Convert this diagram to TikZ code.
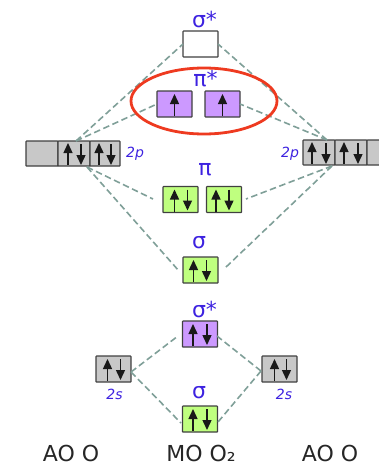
\documentclass[tikz,border=0pt]{standalone}
\usepackage{fontspec}
\setmainfont{DejaVu Sans}
\usetikzlibrary{arrows.meta}
\definecolor{lblue}{HTML}{3D22E0}
\definecolor{lpurple}{HTML}{CC99FF}
\definecolor{lgreen}{HTML}{BFFF7F}
\definecolor{lgrey}{HTML}{C8C8C8}
\definecolor{ldash}{HTML}{7F9F98}
\definecolor{lred}{HTML}{EE3A20}
\tikzset{
  orb/.style={draw=black!75,line width=1.2pt,minimum width=35pt,minimum height=26pt,inner sep=0pt,outer sep=0pt,rounded corners=0.6pt},
  conn/.style={draw=ldash,line width=1.6pt,dash pattern=on 6.5pt off 3.5pt},
  sym/.style={text=lblue,font=\fontsize{22}{24}\selectfont,inner sep=0pt},
  sublabel/.style={text=lblue,font=\fontsize{14}{16}\selectfont\itshape,inner sep=0pt},
  captext/.style={text=black!85,font=\fontsize{22}{24}\selectfont,inner sep=0pt},
  upa/.style={-{Triangle[length=10pt,width=9pt]},line width=1.4pt,black!90},
}
\newcommand{\aup}[2]{\draw[upa] ([xshift=#2pt]#1.south) ++(0,-1) -- ++(0,-22);}
\newcommand{\adn}[2]{\draw[upa] ([xshift=#2pt]#1.north) ++(0,3) -- ++(0,21);}
\begin{document}
\begin{tikzpicture}[x=1pt,y=-1pt]
\useasboundingbox (0,0) rectangle (378,466);
% MOs and AOs
\node[orb,fill=white] (ss) at (200.5,44) {};
\node[orb,fill=lpurple] (pa) at (174.5,104) {};
\node[orb,fill=lpurple] (pb) at (222.5,104) {};
\node[orb,fill=lgreen] (pc) at (180.5,199.5) {};
\node[orb,fill=lgreen] (pd) at (224,199.5) {};
\node[orb,fill=lgreen] (sg) at (200.5,270) {};
\node[orb,fill=lpurple] (ls) at (200,334) {};
\node[orb,fill=lgreen] (lg) at (200,419) {};
\node[orb,fill=lgrey] (as) at (113.5,369) {};
\node[orb,fill=lgrey] (bs) at (279.5,369) {};
\node[orb,fill=lgrey,minimum width=32pt,minimum height=25pt] (l1) at (42,153.5) {};
\node[orb,fill=lgrey,minimum width=32pt,minimum height=25pt] (l2) at (74,153.5) {};
\node[orb,fill=lgrey,minimum width=30pt,minimum height=25pt] (l3) at (105,153.5) {};
\node[orb,fill=lgrey,minimum width=32pt,minimum height=25pt] (r1) at (319,152.5) {};
\node[orb,fill=lgrey,minimum width=32pt,minimum height=25pt] (r2) at (351,152.5) {};
\node[orb,fill=lgrey,minimum width=32pt,minimum height=25pt] (r3) at (383,152.5) {};
% connector ends
\coordinate (lt) at (76,141);
\coordinate (lb) at (87,167);
\coordinate (rt) at (327,140);
\coordinate (rb) at (332,166);
\coordinate (pce) at (153,199);
\coordinate (pde) at (246,199);
\coordinate (sgl) at (179,271);
\coordinate (sgr) at (225,268);
\coordinate (lsl) at (178,336);
\coordinate (lsr) at (217,336);
\coordinate (lgl) at (181,423);
\coordinate (lgr) at (218,422);
\coordinate (asr) at (131,372);
\coordinate (bsl) at (261,371);
\draw[conn] (lt) -- (ss.west);
\draw[conn] (lt) -- (pa.west);
\draw[conn] (rt) -- (ss.east);
\draw[conn] (rt) -- (pb.east);
\draw[conn] (lb) -- (pce);
\draw[conn] (lb) -- (sgl);
\draw[conn] (rb) -- (pde);
\draw[conn] (rb) -- (sgr);
\draw[conn] (asr) -- (lsl);
\draw[conn] (asr) -- (lgl);
\draw[conn] (bsl) -- (lsr);
\draw[conn] (bsl) -- (lgr);
% arrows
\aup{pa}{0}
\aup{pb}{0}
\aup{pc}{-6}\adn{pc}{7}
\aup{pd}{-8}\adn{pd}{5}
\aup{sg}{-7}\adn{sg}{6}
\aup{ls}{-7}\adn{ls}{7}
\aup{lg}{-7}\adn{lg}{7}
\aup{as}{-6}\adn{as}{7}
\aup{bs}{-5}\adn{bs}{7}
\aup{l2}{-6}\adn{l2}{7}
\aup{l3}{-6}\adn{l3}{6}
\aup{r1}{-7}\adn{r1}{7}
\aup{r2}{-7}\adn{r2}{7}
% labels
\node[sym] (t1) at (204.5,19) {σ*};
\node[sym] (t2) at (205.5,79) {π*};
\node[sym] (t3) at (205,170) {π};
\node[sym] (t4) at (199,243) {σ};
\node[sym] (t5) at (204.5,309) {σ*};
\node[sym] (t6) at (199,393) {σ};
\node[sublabel] (t7) at (135,154) {2\textit{p}};
\node[sublabel] (t8) at (290,154) {2\textit{p}};
\node[sublabel] (t9) at (114.5,394) {2\textit{s}};
\node[sublabel] (t10) at (284,394) {2\textit{s}};
\node[captext] (c1) at (71,453) {AO O};
\node[captext] (c2) at (201,453) {MO O₂};
\node[captext] (c3) at (330,453) {AO O};
% highlight
\draw[lred,line width=2.8pt] (204,101) ellipse [x radius=73,y radius=33];
\end{tikzpicture}
\end{document}
